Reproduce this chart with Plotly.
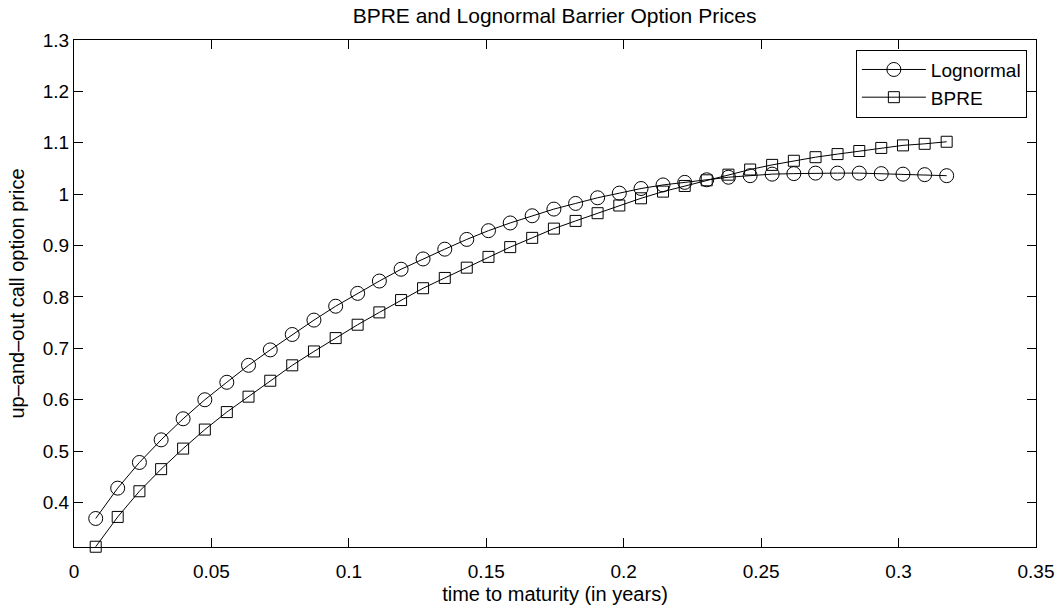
import plotly.graph_objects as go

# time to maturity (years)
maturity = [0.0079, 0.0159, 0.0238, 0.0317, 0.0397, 0.0476, 0.0556, 0.0635, 0.0714, 0.0794,
            0.0873, 0.0952, 0.1032, 0.1111, 0.1190, 0.1270, 0.1349, 0.1429, 0.1508, 0.1587,
            0.1667, 0.1746, 0.1825, 0.1905, 0.1984, 0.2063, 0.2143, 0.2222, 0.2302, 0.2381,
            0.2460, 0.2540, 0.2619, 0.2698, 0.2778, 0.2857, 0.2937, 0.3016, 0.3095, 0.3175]

lognormal = [0.369, 0.428, 0.478, 0.522, 0.563, 0.600, 0.634, 0.667, 0.697, 0.727,
             0.755, 0.782, 0.807, 0.831, 0.854, 0.874, 0.893, 0.912, 0.929, 0.944,
             0.958, 0.971, 0.982, 0.993, 1.002, 1.011, 1.018, 1.023, 1.028, 1.033,
             1.036, 1.039, 1.040, 1.041, 1.041, 1.041, 1.040, 1.039, 1.038, 1.036]

bpre = [0.314, 0.372, 0.422, 0.465, 0.505, 0.542, 0.576, 0.606, 0.637, 0.667,
        0.694, 0.720, 0.746, 0.770, 0.794, 0.817, 0.837, 0.857, 0.878, 0.897,
        0.915, 0.933, 0.948, 0.963, 0.978, 0.992, 1.005, 1.016, 1.027, 1.038,
        1.048, 1.057, 1.065, 1.072, 1.078, 1.084, 1.090, 1.095, 1.098, 1.102]

FONT = "Liberation Sans, Arial, Helvetica, sans-serif"

fig = go.Figure()
fig.add_trace(go.Scatter(
    x=maturity, y=lognormal, name="Lognormal", mode="lines+markers",
    line=dict(color="black", width=1),
    marker=dict(symbol="circle-open", size=14, color="black", line=dict(width=1)),
    cliponaxis=False,
))
fig.add_trace(go.Scatter(
    x=maturity, y=bpre, name="BPRE", mode="lines+markers",
    line=dict(color="black", width=1),
    marker=dict(symbol="square-open", size=11, color="black", line=dict(width=1)),
    cliponaxis=False,
))

axis_common = dict(
    showline=True, linecolor="black", linewidth=1, mirror="ticks",
    ticks="inside", ticklen=9, tickwidth=1, tickcolor="black",
    showgrid=False, zeroline=False, automargin=False,
    tickfont=dict(family=FONT, size=19, color="black"),
)

fig.update_layout(
    width=1063, height=609,
    margin=dict(l=74, r=27, t=40, b=62),
    paper_bgcolor="white", plot_bgcolor="white",
    font=dict(family=FONT, color="black"),
    title=dict(text="BPRE and Lognormal Barrier Option Prices",
               x=0.5217, xanchor="center", y=0.974, yanchor="middle",
               font=dict(family=FONT, size=21, color="black")),
    xaxis=dict(range=[0, 0.35], tick0=0, dtick=0.05, ticklabelstandoff=7,
               title=dict(text="time to maturity (in years)", standoff=6,
                          font=dict(family=FONT, size=20, color="black")),
               **axis_common),
    yaxis=dict(range=[0.3135, 1.3], tick0=0, dtick=0.1,
               title=dict(text="up\u2013and\u2013out call option price", standoff=12,
                          font=dict(family=FONT, size=20, color="black")),
               **axis_common),
    legend=dict(x=0.9905, xanchor="right", y=0.981, yanchor="top",
                bgcolor="white", bordercolor="black", borderwidth=1,
                font=dict(family=FONT, size=19, color="black"),
                itemwidth=64, tracegroupgap=0),
    showlegend=True,
)

fig.write_html("out.html", config={"displayModeBar": False},
               post_script="document.body.style.margin='0';")
